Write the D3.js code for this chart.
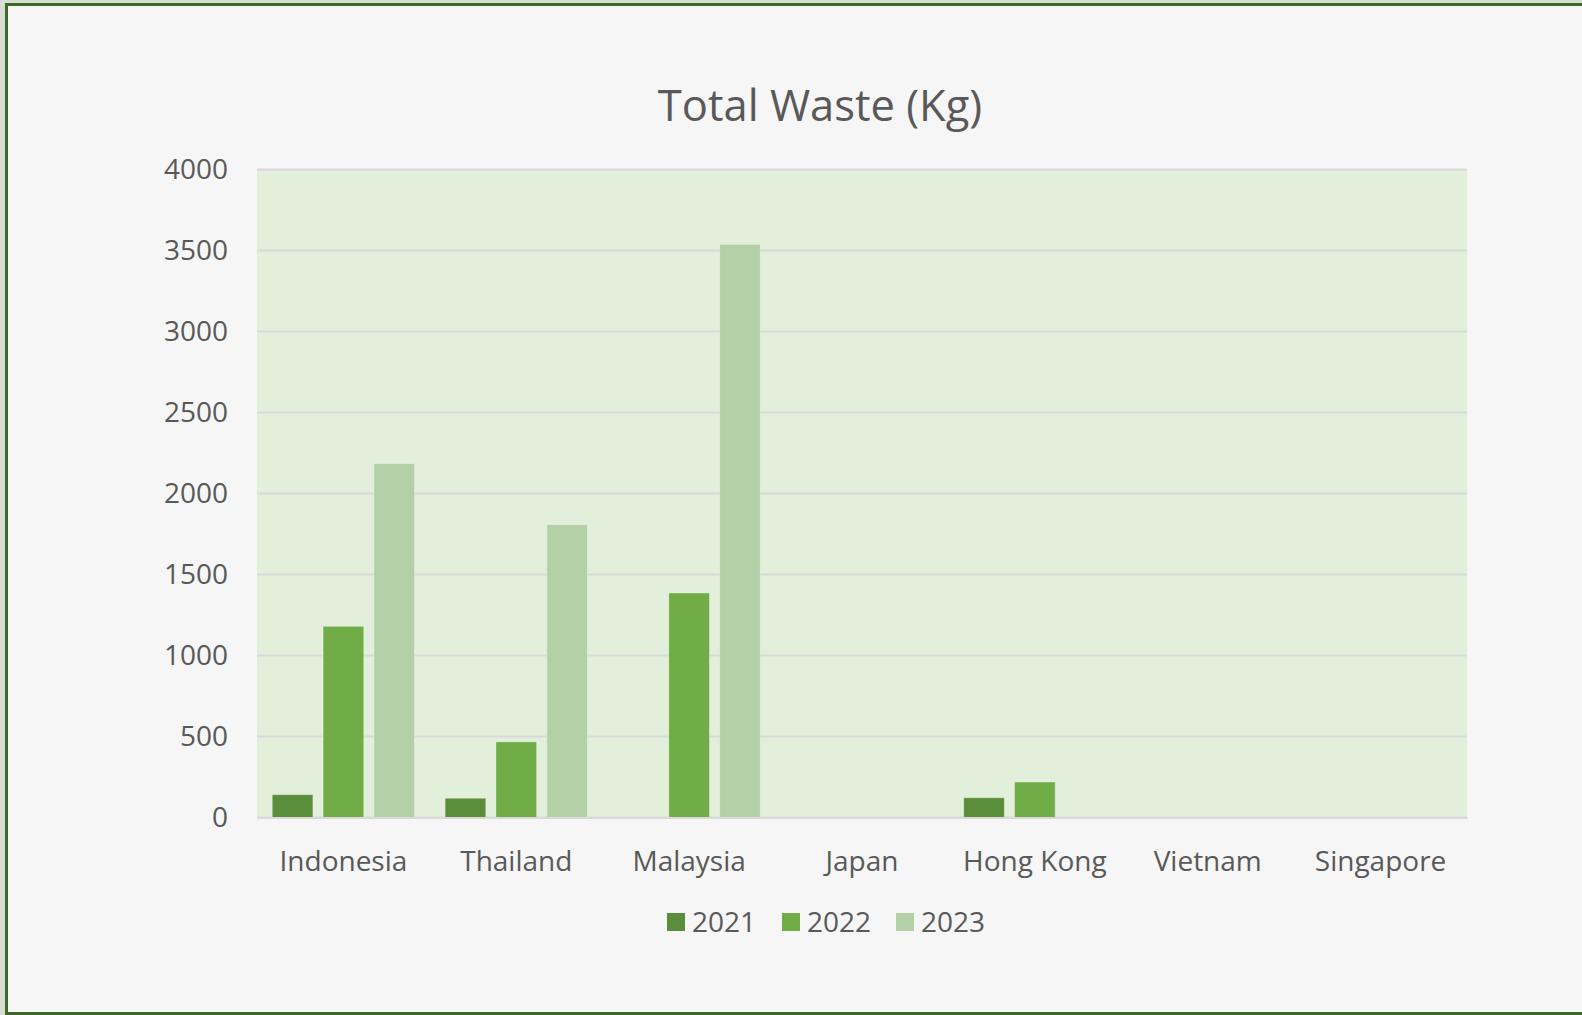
<!DOCTYPE html>
<html>
<head>
<meta charset="utf-8">
<script src="https://cdn.jsdelivr.net/npm/d3@7"></script>
<style>
  html, body { margin: 0; padding: 0; background: #d8ddd5; }
  svg { display: block; }
  text { font-family: "Open Sans", "Noto Sans", sans-serif; fill: #595959; }
</style>
</head>
<body>
<script>
const categories = ["Indonesia", "Thailand", "Malaysia", "Japan", "Hong Kong", "Vietnam", "Singapore"];
const years = ["2021", "2022", "2023"];
const values2021 = [141, 119, null, null, 122, null, null];
const values2022 = [1180, 467, 1386, null, 219, null, null];
const values2023 = [2185, 1808, 3538, null, null, null, null];
const yTicks = [0, 500, 1000, 1500, 2000, 2500, 3000, 3500, 4000];
const colors = ["#5b8e3a", "#70ad47", "#b4d0a7"];

const W = 1582, H = 1015;
const margin = { top: 169.5, right: 115, bottom: 197.5, left: 257 };
const width = W - margin.left - margin.right,
      height = H - margin.top - margin.bottom;

const series = [values2021, values2022, values2023];

const svg = d3.select("body").append("svg")
  .attr("width", W).attr("height", H);

// page / frame
svg.append("rect").attr("x", 0).attr("y", 0).attr("width", W).attr("height", H).attr("fill", "#d8ddd5");
svg.append("rect")
  .attr("x", 6.5).attr("y", 4.5).attr("width", W).attr("height", H - 6)
  .attr("fill", "#f5f6f5").attr("stroke", "#3d6827").attr("stroke-width", 3);

const g = svg.append("g").attr("transform", `translate(${margin.left},${margin.top})`);

const x0 = d3.scaleBand().domain(categories).range([0, width]).paddingInner(0).paddingOuter(0);
const x1 = d3.scaleBand().domain(years).range([0, x0.bandwidth()]).paddingInner(0.2).paddingOuter(0.3);
const y = d3.scaleLinear().domain([0, 4000]).range([height, 0]);

// plot area
g.append("rect").attr("width", width).attr("height", height).attr("fill", "#e2efda");

// gridlines
g.append("g")
  .selectAll("line").data(yTicks).join("line")
  .attr("x1", 0).attr("x2", width)
  .attr("y1", d => y(d)).attr("y2", d => y(d))
  .attr("stroke", "#d9d9d9").attr("stroke-width", 2);

// y axis labels
const yAxis = g.append("g")
  .attr("transform", "translate(-29,0)")
  .call(d3.axisLeft(y).tickValues(yTicks).tickFormat(d3.format("d")).tickSize(0).tickPadding(0));
yAxis.select(".domain").remove();
yAxis.selectAll("text")
  .style("font-family", '"Open Sans", "Noto Sans", sans-serif')
  .style("font-size", "28px").attr("fill", "#595959");

// bars
const groups = g.append("g").selectAll("g").data(categories).join("g")
  .attr("transform", d => `translate(${x0(d)},0)`);

groups.selectAll("rect")
  .data((c, i) => years.map((yr, k) => ({ year: yr, k: k, value: series[k][i] })).filter(d => d.value != null))
  .join("rect")
  .attr("x", d => x1(d.year))
  .attr("width", x1.bandwidth())
  .attr("y", d => y(d.value))
  .attr("height", d => y(0) - y(d.value))
  .attr("fill", d => colors[d.k])
  .attr("stroke", "rgba(255,255,255,0.35)")
  .attr("stroke-width", 1);

// x axis
const xAxis = g.append("g")
  .attr("transform", `translate(0,${height})`)
  .call(d3.axisBottom(x0).tickSize(0).tickPadding(34));
xAxis.select(".domain").attr("stroke", "#d9d9d9").attr("stroke-width", 2);
xAxis.selectAll("text")
  .style("font-family", '"Open Sans", "Noto Sans", sans-serif')
  .style("font-size", "28px").attr("fill", "#595959");

// title
svg.append("text")
  .attr("x", 820).attr("y", 121)
  .attr("text-anchor", "middle")
  .style("font-size", "43.5px")
  .text("Total Waste (Kg)");

// legend
const legendX = [667, 782, 896];
const legend = svg.append("g").selectAll("g").data(years).join("g")
  .attr("transform", (d, i) => `translate(${legendX[i]},913)`);
legend.append("rect").attr("width", 18).attr("height", 18).attr("fill", (d, i) => colors[i]);
legend.append("text").attr("x", 25).attr("y", 19)
  .style("font-size", "28px").text(d => d);
</script>
</body>
</html>
